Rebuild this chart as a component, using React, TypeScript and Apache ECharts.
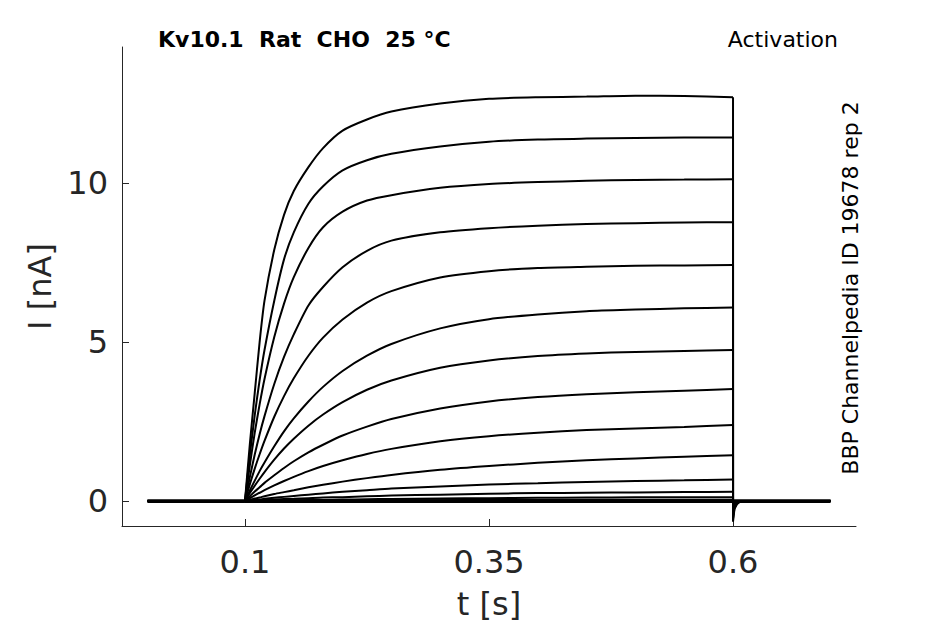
import React, { useEffect, useRef } from "react";
import * as echarts from "echarts";

// time samples [s]
const TIME = [0, 0.1, 0.105, 0.11, 0.115, 0.12, 0.13, 0.14, 0.15, 0.165, 0.18, 0.2, 0.225, 0.25, 0.3, 0.35, 0.4, 0.45, 0.5, 0.55, 0.6, 0.6, 0.6015, 0.604, 0.608, 0.7];
// indices of the step (0.1 s .. 0.6 s) inside TIME
const STEP_START = 1;
const STEP_END = 20;

// current traces [nA], one per voltage step
const TRACE_01 = [0, 0, 1.8, 3.4, 5.0, 6.3, 7.9, 9.0, 9.75, 10.5, 11.1, 11.65, 12.0, 12.25, 12.5, 12.65, 12.7, 12.72, 12.75, 12.74, 12.7, -0.65, -0.25, -0.1, 0, 0];
const TRACE_02 = [0, 0, 1.45, 2.7, 3.8, 4.75, 6.3, 7.6, 8.45, 9.35, 9.9, 10.4, 10.72, 10.92, 11.15, 11.3, 11.37, 11.4, 11.42, 11.43, 11.43, -0.55, -0.22, -0.08, 0, 0];
const TRACE_03 = [0, 0, 1.13, 2.15, 3.04, 3.84, 5.16, 6.21, 7.04, 7.96, 8.61, 9.1, 9.45, 9.62, 9.85, 9.97, 10.03, 10.07, 10.1, 10.11, 10.12, -0.45, -0.18, -0.07, 0, 0];
const TRACE_04 = [0, 0, 0.76, 1.46, 2.1, 2.67, 3.68, 4.53, 5.24, 6.15, 6.73, 7.35, 7.87, 8.19, 8.45, 8.58, 8.66, 8.71, 8.74, 8.76, 8.77, -0.38, -0.15, -0.05, 0, 0];
const TRACE_05 = [0, 0, 0.53, 1.02, 1.47, 1.89, 2.65, 3.3, 3.86, 4.57, 5.14, 5.71, 6.24, 6.6, 7.03, 7.23, 7.33, 7.37, 7.4, 7.41, 7.42, -0.3, -0.12, -0.04, 0, 0];
const TRACE_06 = [0, 0, 0.33, 0.64, 0.94, 1.21, 1.72, 2.19, 2.6, 3.13, 3.59, 4.09, 4.57, 4.94, 5.43, 5.72, 5.87, 5.97, 6.02, 6.06, 6.09, -0.22, -0.09, -0.03, 0, 0];
const TRACE_07 = [0, 0, 0.25, 0.48, 0.7, 0.91, 1.3, 1.65, 1.96, 2.37, 2.72, 3.11, 3.5, 3.79, 4.19, 4.42, 4.56, 4.64, 4.69, 4.72, 4.75, -0.15, -0.06, -0.02, 0, 0];
const TRACE_08 = [0, 0, 0.15, 0.3, 0.43, 0.57, 0.81, 1.04, 1.25, 1.53, 1.77, 2.06, 2.34, 2.58, 2.91, 3.13, 3.27, 3.36, 3.42, 3.47, 3.52, -0.1, -0.04, -0.01, 0, 0];
const TRACE_09 = [0, 0, 0.09, 0.18, 0.26, 0.34, 0.49, 0.63, 0.76, 0.94, 1.1, 1.28, 1.48, 1.64, 1.88, 2.04, 2.15, 2.23, 2.28, 2.33, 2.39, -0.06, -0.02, 0, 0, 0];
const TRACE_10 = [0, 0, 0.04, 0.076, 0.11, 0.15, 0.22, 0.28, 0.34, 0.43, 0.51, 0.61, 0.72, 0.82, 0.98, 1.1, 1.2, 1.28, 1.34, 1.39, 1.44, -0.03, 0, 0, 0, 0];
const TRACE_11 = [0, 0, 0.02, 0.035, 0.05, 0.07, 0.1, 0.13, 0.16, 0.2, 0.24, 0.29, 0.34, 0.39, 0.46, 0.52, 0.56, 0.6, 0.63, 0.65, 0.68, 0, 0, 0, 0, 0];
const TRACE_12 = [0, 0, 0.01, 0.02, 0.025, 0.03, 0.045, 0.06, 0.07, 0.09, 0.11, 0.12, 0.15, 0.17, 0.2, 0.23, 0.25, 0.26, 0.27, 0.28, 0.29, 0, 0, 0, 0, 0];
const TRACE_13 = [0, 0, 0, 0.005, 0.008, 0.01, 0.015, 0.02, 0.025, 0.03, 0.035, 0.045, 0.055, 0.065, 0.08, 0.09, 0.1, 0.11, 0.115, 0.118, 0.12, 0, 0, 0, 0, 0];
const TRACE_14 = [0, 0, 0, 0, 0.002, 0.003, 0.005, 0.007, 0.009, 0.011, 0.013, 0.016, 0.019, 0.022, 0.027, 0.031, 0.034, 0.036, 0.038, 0.039, 0.04, 0, 0, 0, 0, 0];
const TRACE_15 = [-0.03, -0.03, -0.03, -0.03, -0.03, -0.03, -0.03, -0.03, -0.03, -0.03, -0.03, -0.03, -0.03, -0.03, -0.03, -0.03, -0.03, -0.03, -0.03, -0.03, -0.03, -0.03, -0.03, -0.03, -0.03, -0.03];
const TRACE_16 = [0.02, 0.02, 0.02, 0.02, 0.02, 0.02, 0.02, 0.02, 0.02, 0.02, 0.02, 0.02, 0.02, 0.02, 0.02, 0.02, 0.02, 0.02, 0.02, 0.02, 0.02, 0.02, 0.02, 0.02, 0.02, 0.02];

const TRACES = [TRACE_01, TRACE_02, TRACE_03, TRACE_04, TRACE_05, TRACE_06, TRACE_07, TRACE_08, TRACE_09, TRACE_10, TRACE_11, TRACE_12, TRACE_13, TRACE_14, TRACE_15, TRACE_16];

const X_TICKS = [0.1, 0.35, 0.6];
const Y_TICKS = [0, 5, 10];
const TITLE = "Kv10.1  Rat  CHO  25 °C";
const PROTOCOL = "Activation";
const SOURCE = "BBP Channelpedia ID 19678 rep 2";

export default function App() {
  const ref = useRef<HTMLDivElement>(null);
  useEffect(() => {
    const chart = echarts.init(ref.current as HTMLDivElement, null, { renderer: "svg" });
    const font = "DejaVu Sans";
    const axisColor = "#262626";
    const lineStyle = { color: "#000000", width: 2 };

    const series: any[] = [];
    TRACES.forEach((vals, i) => {
      // during the voltage step: smooth curve
      const rise = [];
      for (let j = STEP_START; j <= STEP_END; j++) rise.push([TIME[j], vals[j]]);
      series.push({
        type: "line",
        name: "trace " + (i + 1) + " step",
        data: rise,
        smooth: 0.25,
        showSymbol: false,
        symbol: "none",
        silent: true,
        lineStyle,
      });
      // holding level before, and step-off after
      const rest: any[] = [];
      for (let j = 0; j <= STEP_START; j++) rest.push([TIME[j], vals[j]]);
      rest.push([(TIME[STEP_START] + TIME[STEP_END]) / 2, null]);
      for (let j = STEP_END; j < TIME.length; j++) rest.push([TIME[j], vals[j]]);
      series.push({
        type: "line",
        name: "trace " + (i + 1) + " hold",
        data: rest,
        connectNulls: false,
        showSymbol: false,
        symbol: "none",
        silent: true,
        lineStyle,
      });
    });

    chart.setOption({
      animation: false,
      backgroundColor: "#ffffff",
      grid: { left: 122, right: 89, top: 47, bottom: 98, containLabel: false, outerBoundsMode: "none" },
      xAxis: {
        type: "value",
        min: -0.026,
        max: 0.726,
        name: "t [s]",
        nameLocation: "middle",
        nameGap: 62,
        nameTextStyle: { fontSize: 32, color: axisColor, fontFamily: font },
        axisLine: { show: true, onZero: false, lineStyle: { color: axisColor, width: 1 } },
        axisTick: { show: true, inside: true, length: 7, customValues: X_TICKS, lineStyle: { color: axisColor, width: 1 } },
        axisLabel: { customValues: X_TICKS, fontSize: 32, color: axisColor, fontFamily: font, margin: 20, formatter: (v: number) => String(v) },
        splitLine: { show: false },
      },
      yAxis: {
        type: "value",
        min: -0.786,
        max: 14.28,
        name: "I [nA]",
        nameLocation: "middle",
        nameGap: 66,
        nameTextStyle: { fontSize: 32, color: axisColor, fontFamily: font },
        axisLine: { show: true, onZero: false, lineStyle: { color: axisColor, width: 1 } },
        axisTick: { show: true, inside: true, length: 7, customValues: Y_TICKS, lineStyle: { color: axisColor, width: 1 } },
        axisLabel: { customValues: Y_TICKS, fontSize: 32, color: axisColor, fontFamily: font, margin: 14, formatter: (v: number) => String(v) },
        splitLine: { show: false },
      },
      series,
      graphic: [
        {
          type: "text",
          x: 158,
          y: 39,
          style: { text: TITLE, fontSize: 22, fontWeight: "bold", fontFamily: font, fill: "#000000", align: "left", verticalAlign: "middle" },
        },
        {
          type: "text",
          x: 838,
          y: 39,
          style: { text: PROTOCOL, fontSize: 22, fontFamily: font, fill: "#000000", align: "right", verticalAlign: "middle" },
        },
        {
          type: "text",
          x: 850,
          y: 288,
          rotation: Math.PI / 2,
          style: { text: SOURCE, fontSize: 22, fontFamily: font, fill: "#000000", align: "center", verticalAlign: "middle" },
        },
      ],
    });
    return () => chart.dispose();
  }, []);
  return <div ref={ref} style={{ position: "fixed", left: 0, top: 0, width: 945, height: 624, background: "#fff" }} />;
}
